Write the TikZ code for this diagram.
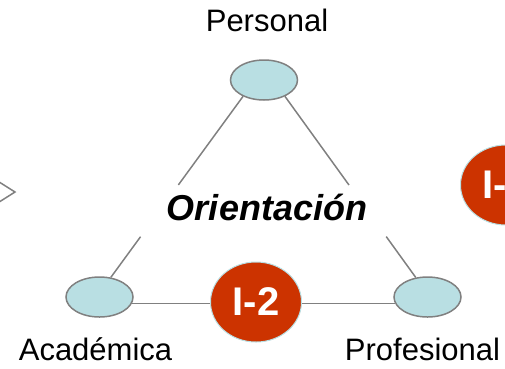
\documentclass[tikz,border=0pt]{standalone}
\usepackage{fontspec}
\setmainfont{Liberation Sans}
\usepackage{tikz}
\usetikzlibrary{shapes,arrows}
\usetikzlibrary{calc}
\definecolor{ovalfill}{RGB}{185,223,227}
\definecolor{edgegray}{RGB}{128,128,128}
\definecolor{badgered}{RGB}{204,51,0}
\tikzstyle{link} = [draw, line width=1.5pt, color=edgegray]
\tikzstyle{oval} = [ellipse, draw=edgegray, line width=1.5pt, fill=ovalfill, minimum width=67pt, minimum height=40pt, inner sep=0pt]
\tikzstyle{badge} = [ellipse, draw=ovalfill, line width=1pt, fill=badgered, text=white, font=\fontsize{40}{40}\selectfont\bfseries, minimum width=91pt, minimum height=80pt, inner sep=0pt]

\begin{document}
\begin{tikzpicture}[x=1pt,y=-1pt]
	\tikzstyle{every node}=[font=\fontsize{31}{31}\selectfont]
	\useasboundingbox (0,0) rectangle (505,368);
	
	% ------------------- Ovals ------------------- %
	\node[oval] (per) at (264,80) {};
	\node[oval] (aca) at (99.5,297) {};
	\node[oval] (pro) at (427.5,297) {};
	
	\node[anchor=base] (perlabel) at (267,31) {Personal};
	\node[anchor=base] (acalabel) at (95.5,360) {Académica};
	\node[anchor=base] (prolabel) at (422.5,360) {Profesional};
	\node[anchor=base, font=\fontsize{36}{36}\selectfont\bfseries\itshape] (ori) at (267,220) {Orientación};
	
	% ------------------- Triangle sides ------------------- %
	\draw[link] (per.218) -- ($(per.218)!0.489!(aca.60)$);
	\draw[link] ($(per.218)!0.775!(aca.60)$) -- (aca.60);
	\draw[link] (per.322) -- ($(per.322)!0.489!(pro.121)$);
	\draw[link] ($(per.322)!0.774!(pro.121)$) -- (pro.121);
	\draw[link] (aca.-11) -- (pro.191);
	
	% ------------------- Badges ------------------- %
	\node[badge] (itwo) at (256,302) {I-2};
	\node[badge] (ithree) at (506,185) {I-3};
	
	\draw[link] (-4,180) -- (15,192) -- (-4,204);
	
\end{tikzpicture}
\end{document}
